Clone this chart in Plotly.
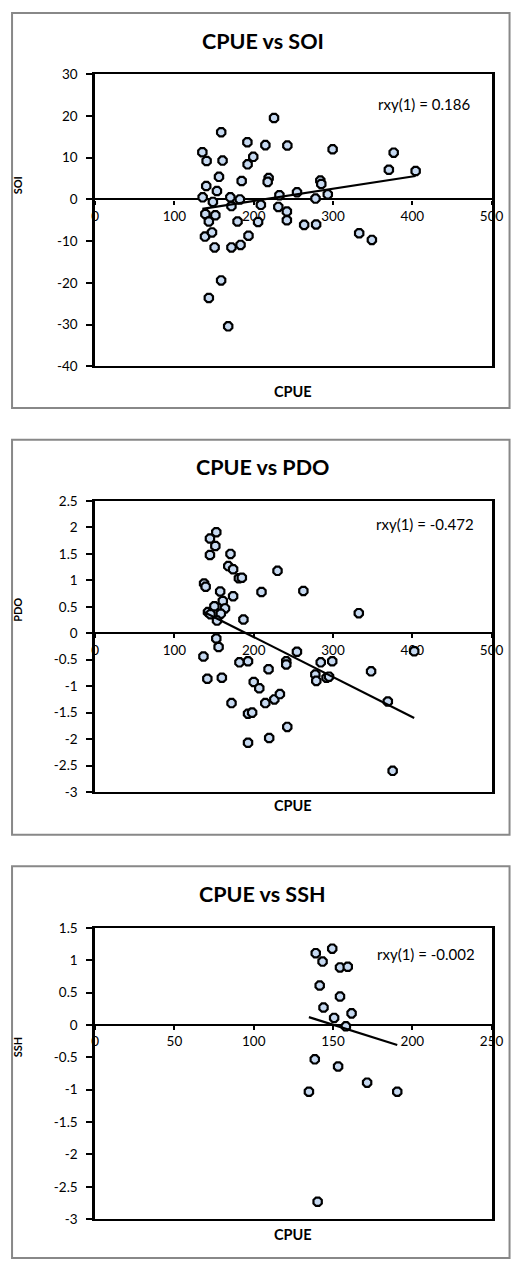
import plotly.graph_objects as go
import numpy as np

W, H = 523, 1268

# ---------------- data ----------------
titles = ["CPUE vs SOI", "CPUE vs PDO", "CPUE vs SSH"]
y_names = ["SOI", "PDO", "SSH"]
x_name = "CPUE"
r_labels = ["rxy(1) = 0.186", "rxy(1) = -0.472", "rxy(1) = -0.002"]

soi_cpue = [225.6, 159.0, 192.0, 214.7, 242.4, 135.2, 140.6, 160.7, 199.4, 192.3,
            156.2, 218.8, 217.6, 184.8, 140.1, 153.6, 135.6, 148.5, 170.5, 182.5,
            171.9, 209.0, 232.4, 254.6, 231.0, 241.8, 139.0, 151.6, 241.8, 263.6,
            143.4, 179.6, 205.5, 299.5, 376.5, 370.4, 404.2, 284.0, 285.2, 277.9,
            293.4, 278.7, 333.0, 349.0, 193.4, 138.5, 147.4, 150.7, 171.9, 183.4,
            158.9, 143.4, 167.8]
soi = [19.5, 16.1, 13.7, 13.0, 12.9, 11.3, 9.2, 9.3, 10.2, 8.4,
       5.4, 5.1, 4.2, 4.4, 3.2, 2.0, 0.5, -0.6, 0.5, 0.0,
       -1.6, -1.3, 1.0, 1.7, -1.8, -2.9, -3.5, -3.8, -5.0, -6.1,
       -5.3, -5.3, -5.4, 12.0, 11.2, 7.1, 6.8, 4.5, 3.7, 0.2,
       1.2, -6.0, -8.1, -9.7, -8.7, -8.9, -7.9, -11.5, -11.5, -10.9,
       -19.4, -23.6, -30.4]

pdo_cpue = [152.8, 144.8, 151.6, 144.8, 170.7, 167.9, 174.0, 181.3, 185.0, 137.4,
            139.4, 157.7, 209.8, 174.0, 230.0, 161.0, 150.4, 163.8, 142.3, 145.5,
            158.5, 153.7, 187.0, 262.6, 332.5, 152.8, 155.7, 136.6, 182.0, 192.8,
            218.7, 141.5, 159.8, 200.0, 207.0, 172.0, 214.6, 226.0, 192.8, 198.0,
            192.8, 219.5, 254.5, 402.4, 241.0, 241.0, 284.5, 299.0, 348.0, 277.7,
            278.9, 291.8, 295.0, 233.0, 369.1, 242.3, 375.2]
pdo = [1.91, 1.79, 1.65, 1.48, 1.50, 1.27, 1.21, 1.04, 1.05, 0.94,
       0.88, 0.79, 0.78, 0.70, 1.18, 0.61, 0.51, 0.47, 0.40, 0.36,
       0.37, 0.24, 0.26, 0.80, 0.38, -0.10, -0.26, -0.44, -0.55, -0.53,
       -0.68, -0.86, -0.84, -0.92, -1.04, -1.32, -1.32, -1.25, -1.52, -1.50,
       -2.07, -1.98, -0.35, -0.34, -0.53, -0.59, -0.55, -0.53, -0.72, -0.78,
       -0.90, -0.84, -0.82, -1.15, -1.29, -1.77, -2.60]

ssh_cpue = [139.1, 149.5, 143.4, 154.4, 159.3, 141.6, 144.0, 154.4, 161.7, 150.7,
            158.1, 138.5, 153.2, 171.5, 134.8, 190.5, 140.3]
ssh = [1.11, 1.18, 0.98, 0.89, 0.90, 0.61, 0.27, 0.44, 0.18, 0.11,
       -0.02, -0.53, -0.64, -0.89, -1.03, -1.03, -2.73]

x_ticks = [[0, 100, 200, 300, 400, 500],
           [0, 100, 200, 300, 400, 500],
           [0, 50, 100, 150, 200, 250]]
y_ticks = [[30, 20, 10, 0, -10, -20, -30, -40],
           [2.5, 2, 1.5, 1, 0.5, 0, -0.5, -1, -1.5, -2, -2.5, -3],
           [1.5, 1, 0.5, 0, -0.5, -1, -1.5, -2, -2.5, -3]]

xs = [soi_cpue, pdo_cpue, ssh_cpue]
ys = [soi, pdo, ssh]

# ---------------- layout (pixels) ----------------
FONT = "Lato"
plot_x = (94, 503)
plot_y = [(67, 363), (499.3, 794), (931.7, 1226.7)]
frames = [(5, 405), (437.3, 837.3), (869.3, 1266)]
title_y = [33, 465, 897]
ytitle_y = [180, 610, 1052]
r_pos = [(433, 97), (434, 523), (435, 958)]
xtitle_y = [388, 808, 1242]


def px(x):
    return x / W


def py(y):
    return 1 - y / H


fig = go.Figure()
layout = dict(
    width=W, height=H, margin=dict(l=0, r=0, t=0, b=0),
    paper_bgcolor="white", plot_bgcolor="white", showlegend=False,
    font=dict(family=FONT, color="black", size=13.5),
    shapes=[], annotations=[],
)

for i in range(3):
    n = i + 1
    xa = "xaxis" if n == 1 else f"xaxis{n}"
    ya = "yaxis" if n == 1 else f"yaxis{n}"
    xr = "x" if n == 1 else f"x{n}"
    yr = "y" if n == 1 else f"y{n}"
    ox = f"x{n + 3}"
    oxa = f"xaxis{n + 3}"

    xvals = np.array(xs[i])
    yvals = np.array(ys[i])
    xt = x_ticks[i]
    yt = y_ticks[i]
    xrange = [min(xt), max(xt)]
    yrange = [min(yt), max(yt)]

    dom_x = [px(plot_x[0]), px(plot_x[1])]
    dom_y = [py(plot_y[i][1]), py(plot_y[i][0])]

    fig.add_trace(go.Scatter(
        x=xvals, y=yvals, mode="markers", xaxis=xr, yaxis=yr,
        marker=dict(symbol="octagon", size=9, color="#C6D9F1",
                    line=dict(color="black", width=2.2)),
        hoverinfo="skip"))

    # linear trend (least squares)
    k, b = np.polyfit(xvals, yvals, 1)
    tx = np.array([xvals.min(), xvals.max()])
    fig.add_trace(go.Scatter(
        x=tx, y=k * tx + b, mode="lines", xaxis=ox, yaxis=yr,
        line=dict(color="black", width=2.2), hoverinfo="skip"))

    layout[xa] = dict(domain=dom_x, anchor=yr, range=xrange, showgrid=False,
                      zeroline=False, showline=True, linecolor="black",
                      linewidth=2, mirror=True, ticks="", showticklabels=False,
                      fixedrange=True)
    layout[ya] = dict(domain=dom_y, anchor=xr, range=yrange, showgrid=False,
                      zeroline=False, showline=True, linecolor="black",
                      linewidth=2.5, mirror=True, ticks="outside", ticklen=6,
                      tickwidth=2, tickcolor="black", tickvals=yt,
                      ticktext=[f"{v:g}" for v in yt], ticklabelstandoff=6,
                      tickfont=dict(size=13.5, family=FONT), fixedrange=True)
    zero_pos = dom_y[0] + (0 - yrange[0]) / (yrange[1] - yrange[0]) * (dom_y[1] - dom_y[0])
    layout[oxa] = dict(overlaying=xr, anchor="free", position=zero_pos,
                       range=xrange, showgrid=False, zeroline=False,
                       showline=True, linecolor="black", linewidth=2.2,
                       ticks="outside", ticklen=4, tickwidth=1.5,
                       tickcolor="black", tickvals=xt,
                       ticktext=[f"{v:g}" for v in xt],
                       tickfont=dict(size=13.5, family=FONT),
                       layer="below traces", fixedrange=True)

    # outer chart frame
    layout["shapes"].append(dict(
        type="rect", xref="paper", yref="paper",
        x0=px(8.3), x1=px(521.5), y0=py(frames[i][1]), y1=py(frames[i][0]),
        line=dict(color="#888888", width=2), fillcolor="rgba(0,0,0,0)",
        layer="below"))

    layout["annotations"] += [
        dict(text=f"<b>{titles[i]}</b>", x=px(267), y=py(title_y[i]),
             xref="paper", yref="paper", showarrow=False,
             font=dict(size=21.5, family=FONT), xanchor="center", yanchor="middle"),
        dict(text=f"<b>{y_names[i]}</b>", x=px(14), y=py(ytitle_y[i]),
             xref="paper", yref="paper", showarrow=False, textangle=-90,
             font=dict(size=11, family=FONT), xanchor="center", yanchor="middle"),
        dict(text=f"<b>{x_name}</b>", x=px((plot_x[0] + plot_x[1]) / 2),
             y=py(xtitle_y[i]), xref="paper", yref="paper", showarrow=False,
             font=dict(size=14.5, family=FONT), xanchor="center", yanchor="middle"),
        dict(text=r_labels[i], x=px(r_pos[i][0]), y=py(r_pos[i][1]),
             xref="paper", yref="paper", showarrow=False,
             font=dict(size=15, family=FONT), xanchor="center", yanchor="middle"),
    ]

fig.update_layout(**layout)

page_style = "document.body.style.margin='0';document.body.style.overflow='hidden';"
fig.write_html("out.html", config={"displayModeBar": False}, post_script=page_style)
